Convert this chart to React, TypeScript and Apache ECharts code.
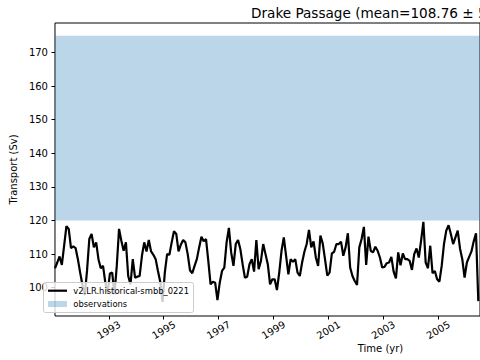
import React, { useEffect, useRef } from 'react';
import * as echarts from 'echarts';

const START_YEAR = 1991;
const seriesName = 'v2.LR.historical-smbb_0221';
const obsName = 'observations';
const titleText = 'Drake Passage (mean=108.76 ± 5.27)';
const xAxisName = 'Time (yr)';
const yAxisName = 'Transport (Sv)';

// monthly transport (Sv), Jan 1991 onward (visible part)
const transport = [
  105.8, 107.5, 109.3, 106.8, 112.5, 118.3, 117.5, 111.8, 112.3, 111.8, 108.5, 104.5,
  100.8, 97.8, 105, 114.5, 116, 112, 113.5, 108.5, 105.8, 106.5, 101.5, 98.5,
  104.2, 104.5, 98, 106.5, 117.5, 114, 111, 113.5, 103.5, 101, 108.5, 103,
  103.3, 103.5, 109.5, 113.5, 110.8, 114.2, 110.8, 109.8, 108.5, 105, 101.8, 95.8,
  104.5, 110, 109.8, 113.5, 116.8, 116, 110.8, 112.8, 114.2, 113.5, 110, 105.2,
  104.3, 106.5, 108.5, 112, 115.2, 113.8, 114.5, 108, 101, 101.8, 101.5, 96.3,
  101.5, 105, 106, 113.5, 117.8, 110.5, 106.5, 113, 114.2, 111.5, 107, 103,
  103.3, 107, 108.5, 104.8, 114.2, 105.5, 108, 113, 110, 107, 101, 102.5,
  102.5, 99.3, 104.5, 111, 115, 109.5, 104, 108.5, 107.7, 108.5, 104.5, 103.5,
  107.5, 110.7, 113, 117.2, 112, 113.8, 109, 106.5, 115.5, 113.2, 108.5, 103.6,
  104.5, 110.2, 110.7, 113, 113, 113.7, 109.5, 112, 116.2, 106, 103.5, 102,
  100.8, 112, 114.5, 118.1, 106.8, 115.2, 111, 110.5, 112.2, 111, 109, 106,
  106.2, 107.3, 107.5, 109.2, 104.8, 102.8, 110.5, 106.7, 110.2, 108.5, 108.5, 108,
  105.3, 110, 111.7, 109, 114, 119.6, 107.5, 105.8, 112.5, 104.3, 105, 102.5,
  101.8, 106.5, 113, 117, 118.6, 116, 113, 115, 117, 111.7, 108.5, 103,
  107.5, 109.2, 110.8, 113.8, 116.2, 96,
];

const obsRange = [120, 175];
const yTicks = [100, 110, 120, 130, 140, 150, 160, 170];
const xTicks = [1993, 1995, 1997, 1999, 2001, 2003, 2005];

const FONT = 'DejaVu Sans';

export default function App() {
  const ref = useRef<HTMLDivElement>(null);
  useEffect(() => {
    const chart = echarts.init(ref.current as HTMLDivElement, null, { renderer: 'svg' });
    const data = transport.map((v, i) => [START_YEAR + (i + 0.5) / 12, v]);
    chart.setOption({
      animation: false,
      textStyle: { fontFamily: FONT },
      grid: {
        left: 41, right: -1, top: 23, bottom: 44,
        show: true, borderColor: '#000', borderWidth: 1, backgroundColor: 'transparent',
      },
      xAxis: {
        type: 'value',
        min: START_YEAR + 0.5 / 12,
        max: 2006.52,
        splitLine: { show: false },
        axisLine: { show: false },
        axisTick: { show: true, customValues: xTicks, length: 3.5, lineStyle: { color: '#000', width: 1 } },
        axisLabel: {
          customValues: xTicks, rotate: 30, align: 'center', verticalAlign: 'middle', margin: 14,
          fontSize: 10, color: '#000', fontFamily: FONT, formatter: (v: number) => String(v),
        },
      },
      yAxis: {
        type: 'value',
        min: 91.58,
        max: 178.8,
        splitLine: { show: false },
        axisLine: { show: false },
        axisTick: { show: true, customValues: yTicks, length: 3.5, lineStyle: { color: '#000', width: 1 } },
        axisLabel: {
          customValues: yTicks, margin: 7, fontSize: 10, color: '#000', fontFamily: FONT,
          formatter: (v: number) => String(v),
        },
        name: yAxisName,
        nameLocation: 'middle',
        nameGap: 24,
        nameTextStyle: { fontSize: 10, color: '#000', fontFamily: FONT },
      },
      series: [
        {
          type: 'line', name: obsName, data: [], z: 1, silent: true,
          markArea: {
            silent: true,
            itemStyle: { color: 'rgba(31,119,180,0.3)', borderWidth: 0 },
            data: [[{ yAxis: obsRange[0] }, { yAxis: obsRange[1] }]],
          },
        },
        {
          type: 'line', name: seriesName, data, symbol: 'none', showSymbol: false, z: 3,
          lineStyle: { color: '#000', width: 2.2 }, clip: true,
        },
      ],
      graphic: [
        {
          type: 'text', z: 100, x: 251, y: 12.5,
          style: { text: titleText, fontSize: 13.6, fontFamily: FONT, fill: '#000', verticalAlign: 'middle', align: 'left' },
        },
        {
          type: 'text', z: 100, x: 380.5, y: 348,
          style: { text: xAxisName, fontSize: 10, fontFamily: FONT, fill: '#000', verticalAlign: 'middle', align: 'center' },
        },
        {
          type: 'rect', z: 100,
          shape: { x: 43.5, y: 282.5, width: 150, height: 30, r: 2 },
          style: { fill: 'rgba(255,255,255,0.8)', stroke: '#cccccc', lineWidth: 1 },
        },
        {
          type: 'line', z: 101,
          shape: { x1: 48, y1: 290.7, x2: 67, y2: 290.7 },
          style: { stroke: '#000', lineWidth: 2.2 },
        },
        {
          type: 'text', z: 101, x: 73.3, y: 290.7,
          style: { text: seriesName, fontSize: 8.4, fontFamily: FONT, fill: '#000', verticalAlign: 'middle', align: 'left' },
        },
        {
          type: 'rect', z: 101,
          shape: { x: 48, y: 301, width: 19, height: 6 },
          style: { fill: 'rgba(31,119,180,0.3)' },
        },
        {
          type: 'text', z: 101, x: 73.3, y: 304,
          style: { text: obsName, fontSize: 8.4, fontFamily: FONT, fill: '#000', verticalAlign: 'middle', align: 'left' },
        },
      ],
    });
    return () => chart.dispose();
  }, []);
  return (
    <div style={{ position: 'fixed', left: 0, top: 0, width: 480, height: 360, overflow: 'hidden', background: '#fff' }}>
      <div ref={ref} style={{ width: 480, height: 360 }} />
    </div>
  );
}
